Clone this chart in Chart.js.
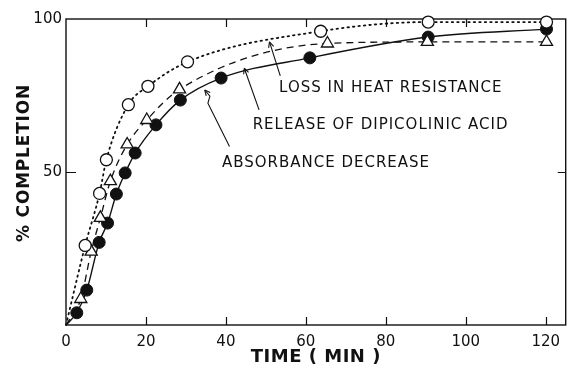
<!DOCTYPE html>
<html>
<head>
<meta charset="utf-8">
<script src="https://cdn.jsdelivr.net/npm/chart.js@4.4.0/dist/chart.umd.min.js"></script>
<style>
  html, body { margin: 0; padding: 0; background: #fff; }
  #wrap { width: 574px; height: 371px; }
</style>
</head>
<body>
<div id="wrap"><canvas id="completionChart"></canvas></div>
<script>
// germination time course, % completion vs time (min); first point is the origin
const heatTime = [0, 4.8, 8.4, 10.1, 15.6, 20.5, 30.4, 63.7, 90.6, 120.2];
const heatLoss = [0, 26, 43, 54, 72, 78, 86, 96, 99, 99];

const dpaTime = [0, 3.7, 6.3, 8.6, 11.1, 15.3, 20.2, 28.4, 65.4, 90.4, 120.2];
const dpaRelease = [0, 8.5, 24, 35, 47, 59, 67, 77, 92, 92.5, 92.5];

const absTime = [0, 2.7, 5.2, 8.3, 10.4, 12.6, 14.8, 17.3, 22.5, 28.6, 38.8, 61, 90.6, 120.2];
const absDecrease = [0, 4, 11.4, 27, 33.3, 42.8, 49.7, 56.2, 65.4, 73.5, 80.7, 87.3, 94.1, 96.7];

const xTicks = [0, 20, 40, 60, 80, 100, 120];
const yTicks = [50, 100];

// label text with a leader line (data units): text anchor, line path ending at the arrow tip
const callouts = [
  { text: 'LOSS IN HEAT RESISTANCE', at: [53.3, 77.5], path: [[53.6, 81.4], [50.9, 92.5]] },
  { text: 'RELEASE OF DIPICOLINIC ACID', at: [46.7, 65.4], path: [[48.3, 70.3], [44.6, 83.9]] },
  { text: 'ABSORBANCE DECREASE', at: [39.0, 52.9], path: [[40.9, 58.3], [35.5, 72.5], [36.0, 74.8], [34.7, 76.8]] }
];

const INK = '#111';
const FONT = '"DejaVu Sans", sans-serif';

function toPoints(xs, ys) {
  return xs.map((x, i) => ({ x: x, y: ys[i] }));
}

// no marker on the origin point, the curves just start there
const markerSize = r => ctx => (ctx.dataIndex === 0 ? 0 : r);

const paperFrame = {
  id: 'paperFrame',
  beforeDatasetsDraw(chart) {
    const { ctx, chartArea: a, scales } = chart;
    ctx.save();
    ctx.strokeStyle = INK;
    ctx.lineWidth = 1.4;
    ctx.strokeRect(a.left, a.top, a.right - a.left, a.bottom - a.top);
    // inward tick marks on all four sides
    ctx.lineWidth = 1.2;
    ctx.beginPath();
    xTicks.slice(1).forEach(v => {
      const px = Math.round(scales.x.getPixelForValue(v)) + 0.5;
      ctx.moveTo(px, a.bottom); ctx.lineTo(px, a.bottom - 8);
      ctx.moveTo(px, a.top); ctx.lineTo(px, a.top + 8);
    });
    yTicks.filter(v => v < 100).forEach(v => {
      const py = Math.round(scales.y.getPixelForValue(v)) + 0.5;
      ctx.moveTo(a.left, py); ctx.lineTo(a.left + 10, py);
      ctx.moveTo(a.right, py); ctx.lineTo(a.right - 8, py);
    });
    ctx.stroke();
    ctx.restore();
  },
  afterDraw(chart) {
    const { ctx, chartArea: a, scales } = chart;
    const px = v => scales.x.getPixelForValue(v);
    const py = v => scales.y.getPixelForValue(v);
    ctx.save();
    ctx.fillStyle = INK;
    ctx.strokeStyle = INK;

    // axis titles
    ctx.textAlign = 'center';
    ctx.textBaseline = 'middle';
    ctx.font = 'bold 18px ' + FONT;
    ctx.letterSpacing = '0.5px';
    ctx.fillText('TIME ( MIN )', (a.left + a.right) / 2, a.bottom + 32);
    ctx.save();
    ctx.translate(25, a.top + 144);
    ctx.rotate(-Math.PI / 2);
    ctx.font = 'bold 17px ' + FONT;
    ctx.letterSpacing = '0.8px';
    ctx.fillText('% COMPLETION', 0, 0);
    ctx.restore();

    // curve labels and leader arrows
    ctx.font = '15px ' + FONT;
    ctx.letterSpacing = '1px';
    ctx.textAlign = 'left';
    ctx.lineWidth = 1.1;
    callouts.forEach(c => {
      ctx.fillText(c.text, px(c.at[0]), py(c.at[1]));
      const pts = c.path.map(p => [px(p[0]), py(p[1])]);
      ctx.beginPath();
      pts.forEach((p, i) => (i ? ctx.lineTo(p[0], p[1]) : ctx.moveTo(p[0], p[1])));
      ctx.stroke();
      const tip = pts[pts.length - 1];
      const prev = pts[pts.length - 2];
      const ang = Math.atan2(tip[1] - prev[1], tip[0] - prev[0]);
      ctx.beginPath();
      [0.45, -0.45].forEach(d => {
        ctx.moveTo(tip[0], tip[1]);
        ctx.lineTo(tip[0] - 6 * Math.cos(ang + d), tip[1] - 6 * Math.sin(ang + d));
      });
      ctx.stroke();
    });
    ctx.restore();
  }
};

new Chart(document.getElementById('completionChart'), {
  type: 'scatter',
  data: {
    datasets: [
      {
        label: 'Loss in heat resistance',
        data: toPoints(heatTime, heatLoss),
        showLine: true,
        cubicInterpolationMode: 'monotone',
        borderColor: INK,
        borderWidth: 1.8,
        borderDash: [1.5, 4],
        borderCapStyle: 'round',
        pointStyle: 'circle',
        pointRadius: markerSize(6),
        pointBackgroundColor: '#fff',
        pointBorderColor: INK,
        pointBorderWidth: 1.3,
        clip: false
      },
      {
        label: 'Release of dipicolinic acid',
        data: toPoints(dpaTime, dpaRelease),
        showLine: true,
        cubicInterpolationMode: 'monotone',
        borderColor: INK,
        borderWidth: 1.3,
        borderDash: [7, 5],
        pointStyle: 'triangle',
        pointRadius: markerSize(7),
        pointBackgroundColor: '#fff',
        pointBorderColor: INK,
        pointBorderWidth: 1.3,
        clip: false
      },
      {
        label: 'Absorbance decrease',
        data: toPoints(absTime, absDecrease),
        showLine: true,
        cubicInterpolationMode: 'monotone',
        borderColor: INK,
        borderWidth: 1.4,
        pointStyle: 'circle',
        pointRadius: markerSize(6),
        pointBackgroundColor: INK,
        pointBorderColor: INK,
        pointBorderWidth: 1,
        clip: false
      }
    ]
  },
  options: {
    responsive: true,
    maintainAspectRatio: false,
    animation: false,
    layout: { padding: { left: 0, right: 2, top: 19, bottom: 0 } },
    plugins: { legend: { display: false }, tooltip: { enabled: false } },
    scales: {
      x: {
        type: 'linear',
        min: 0,
        max: 125,
        grid: { display: false, drawTicks: false },
        border: { display: false },
        afterBuildTicks: scale => { scale.ticks = xTicks.map(v => ({ value: v })); },
        afterFit: scale => { scale.height = 46; },
        ticks: { color: INK, padding: 8, maxRotation: 0, font: { family: FONT, size: 15 } }
      },
      y: {
        min: 0,
        max: 100,
        grid: { display: false, drawTicks: false },
        border: { display: false },
        afterBuildTicks: scale => { scale.ticks = yTicks.map(v => ({ value: v })); },
        afterFit: scale => { scale.width = 66; },
        ticks: { color: INK, padding: 4, font: { family: FONT, size: 15 } }
      }
    }
  },
  plugins: [paperFrame]
});
</script>
</body>
</html>
